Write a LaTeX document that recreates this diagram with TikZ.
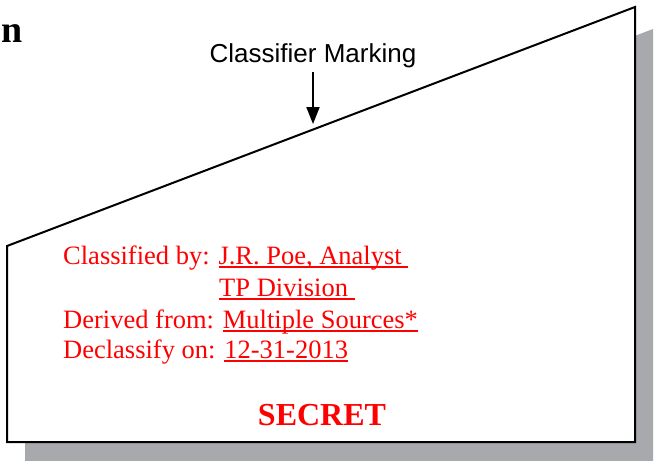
\documentclass[tikz,border=0pt]{standalone}
\usepackage{fontspec}
\setmainfont{Liberation Serif}
\newfontfamily\markfont{Liberation Sans}
\usetikzlibrary{arrows.meta}
\definecolor{shadowgray}{RGB}{167,169,172}
\newcommand\ulbar[1]{\setbox0\hbox{#1}\rlap{\rule[-3.5pt]{\wd0}{1.3pt}}\box0}
\tikzset{
  redline/.style={anchor=base west, text=red, inner sep=0pt,
    font=\fontsize{26.5}{26.5}\selectfont},
}

\begin{document}
\begin{tikzpicture}[x=1pt,y=-1pt]
\useasboundingbox (0,0) rectangle (655,460);

			%shadow
			\begin{scope}
				\clip (0,0) rectangle (655,460);
				\fill[shadowgray] (25,268) -- (653,29) -- (653,466) -- (25,466) -- cycle;
			\end{scope}

			%page
			\draw[line width=2pt, fill=white] (7,246) -- (635,7) -- (635,442) -- (7,442) -- cycle;

			\node[anchor=base west,
			inner sep=0pt,
			font=\fontsize{38}{38}\selectfont\bfseries] (heading) at (1,42) {n};

			\node[anchor=base,
			inner sep=0pt,
			font=\markfont\fontsize{26}{26}\selectfont] (marking) at (313,63) {Classifier Marking};
			\coordinate (tip) at (313,124);
			\draw[line width=2pt, shorten <=3pt, -{Triangle[length=17pt,width=13pt]}] (marking.south) -- (tip);

			%block
			\node[redline] (classified) at (63,264) {Classified by: \ulbar{J.R. Poe, Analyst\ }};
			\node[redline] (division) at (219,296) {\ulbar{TP Division\ }};
			\node[redline] (derived) at (63,328) {Derived from: \ulbar{Multiple Sources*}};
			\node[redline] (declassify) at (63,358) {Declassify on: \ulbar{12-31-2013}};

			\node[anchor=base,
			inner sep=0pt,
			text=red,
			font=\fontsize{32}{32}\selectfont\bfseries] (secret) at (322,425) {SECRET};
\end{tikzpicture}
\end{document}
